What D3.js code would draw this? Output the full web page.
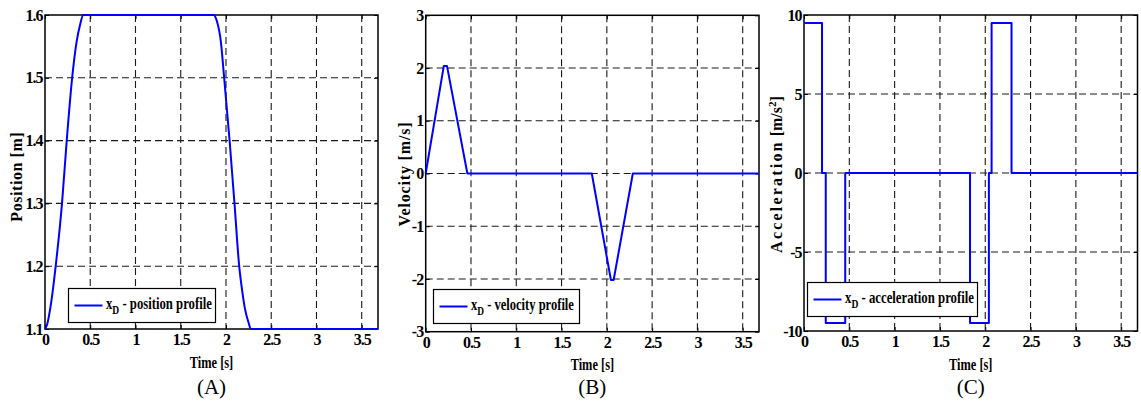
<!DOCTYPE html>
<html>
<head>
<meta charset="utf-8">
<script src="https://cdn.jsdelivr.net/npm/d3@7"></script>
<style>
  html, body { margin: 0; padding: 0; background: #fff; }
  svg { display: block; font-family: "Liberation Serif", "Times New Roman", serif; }
</style>
</head>
<body>
<svg id="chart" width="1141" height="403"></svg>
<script>
// ---- data ----
const xTicks = [0, 0.5, 1, 1.5, 2, 2.5, 3, 3.5];
const posTicks = [1.1, 1.2, 1.3, 1.4, 1.5, 1.6];
const velTicks = [-3, -2, -1, 0, 1, 2, 3];
const accTicks = [-10, -5, 0, 5, 10];

// desired position x_D(t) [m]
const posTime  = [0, 0.025, 0.055, 0.085, 0.118, 0.188, 0.24, 0.30, 0.35, 0.387, 0.424,
                  1.862, 1.90, 1.943, 1.98, 2.04, 2.094, 2.146, 2.18, 2.21, 2.25, 2.275, 3.68];
const posValue = [1.1, 1.108, 1.13, 1.16, 1.2, 1.3, 1.4, 1.5, 1.558, 1.584, 1.6,
                  1.6, 1.59, 1.558, 1.5, 1.4, 1.3, 1.2, 1.16, 1.132, 1.11, 1.1, 1.1];

// desired velocity [m/s]
const velTime  = [0, 0.2, 0.235, 0.46, 1.834, 2.045, 2.075, 2.287, 3.68];
const velValue = [0, 2.04, 2.04, 0, 0, -2.02, -2.02, 0, 0];

// desired acceleration [m/s^2], piecewise constant (value holds until next time)
const accTime  = [0, 0.199, 0.24, 0.455, 1.832, 2.04, 2.07, 2.29, 3.68];
const accValue = [9.5, 0, -9.5, 0, -9.5, 0, 9.5, 0, 0];

const xMax = 3.68;

// ---- layout of the three panels ----
const panels = [
  {
    tag: "(A)", left: 45, right: 378, top: 15, bottom: 329,
    yDomain: [1.1, 1.6], yTicks: posTicks,
    t: posTime, v: posValue, curve: d3.curveMonotoneX,
    yLabel: [{ text: "Position [m]" }], yLabelX: 17, yLabelY: 176.7, yLabelLen: 90,
    legendName: " - position profile",
    legend: { x: 68.5, y: 288.5, w: 147, h: 34, textW: 106 },
    xTitleY: 368
  },
  {
    tag: "(B)", left: 425.7, right: 759, top: 15.3, bottom: 331.7,
    yDomain: [-3, 3], yTicks: velTicks,
    t: velTime, v: velValue, curve: d3.curveLinear,
    yLabel: [{ text: "Velocity [m/s]" }], yLabelX: 405, yLabelY: 174, yLabelLen: 105,
    legendName: " - velocity profile",
    legend: { x: 433.5, y: 289.5, w: 146, h: 34, textW: 103 },
    xTitleY: 370
  },
  {
    tag: "(C)", left: 804, right: 1137.5, top: 15, bottom: 331,
    yDomain: [-10, 10], yTicks: accTicks,
    t: accTime, v: accValue, curve: d3.curveStepAfter,
    yLabel: [{ text: "Acceleration", spacing: 2.2 }, { text: " [m/s" }, { text: "2", sup: true }, { text: "]" }],
    yLabelX: 777, yLabelY: 174.5, yLabelLen: 145,
    legendName: " - acceleration profile",
    legend: { x: 807.5, y: 282.5, w: 170, h: 34, textW: 129 },
    xTitleY: 370
  }
];

const svg = d3.select("#chart");
const fmt = d => String(d);
const SERIF = "'Liberation Serif', 'Times New Roman', serif";

// horizontal scale factor that brings a group to a target width
function fitWidth(g, target) {
  const w = g.node().getBBox().width;
  return w > 0 ? target / w : 1;
}

panels.forEach(p => {
  const x = d3.scaleLinear().domain([0, xMax]).range([p.left, p.right]);
  const y = d3.scaleLinear().domain(p.yDomain).range([p.bottom, p.top]);
  const g = svg.append("g");

  // dashed grid
  const grid = g.append("g").attr("stroke", "#1a1a1a").attr("stroke-width", 1.1)
    .attr("stroke-dasharray", "7,4");
  grid.selectAll("line.v").data(xTicks.filter(t => t > 0)).join("line").attr("class", "v")
    .attr("x1", d => x(d)).attr("x2", d => x(d))
    .attr("y1", p.top).attr("y2", p.bottom);
  grid.selectAll("line.h").data(p.yTicks.filter(t => t > p.yDomain[0] && t < p.yDomain[1])).join("line").attr("class", "h")
    .attr("x1", p.left).attr("x2", p.right)
    .attr("y1", d => y(d)).attr("y2", d => y(d));

  // axes with inward ticks
  const styleAxis = sel => {
    sel.attr("font-family", SERIF);
    sel.select(".domain").remove();
    sel.selectAll(".tick line").attr("stroke", "#000");
    sel.selectAll(".tick text")
      .attr("fill", "#000")
      .style("font-family", SERIF)
      .style("font-weight", "700")
      .style("font-size", "16px")
      .style("letter-spacing", "-1px");
  };
  g.append("g").attr("transform", `translate(0,${p.bottom})`)
    .call(d3.axisBottom(x).tickValues(xTicks).tickSizeInner(-4).tickSizeOuter(0).tickPadding(5).tickFormat(fmt))
    .call(styleAxis);
  g.append("g").attr("transform", `translate(0,${p.top})`)
    .call(d3.axisTop(x).tickValues(xTicks).tickSizeInner(-4).tickSizeOuter(0).tickFormat(""))
    .call(styleAxis);
  g.append("g").attr("transform", `translate(${p.left},0)`)
    .call(d3.axisLeft(y).tickValues(p.yTicks).tickSizeInner(-4).tickSizeOuter(0).tickPadding(2.5).tickFormat(fmt))
    .call(styleAxis);
  g.append("g").attr("transform", `translate(${p.right},0)`)
    .call(d3.axisRight(y).tickValues(p.yTicks).tickSizeInner(-4).tickSizeOuter(0).tickFormat(""))
    .call(styleAxis);

  // frame
  g.append("rect")
    .attr("x", p.left).attr("y", p.top)
    .attr("width", p.right - p.left).attr("height", p.bottom - p.top)
    .attr("fill", "none").attr("stroke", "#000").attr("stroke-width", 1.5);

  // profile curve
  const pts = p.t.map((t, i) => [t, p.v[i]]);
  g.append("path")
    .datum(pts)
    .attr("fill", "none")
    .attr("stroke", "#0000ff")
    .attr("stroke-width", 2)
    .attr("stroke-linejoin", "round")
    .attr("d", d3.line().x(d => x(d[0])).y(d => y(d[1])).curve(p.curve));

  // legend
  const L = p.legend;
  const lg = g.append("g");
  lg.append("rect").attr("x", L.x).attr("y", L.y).attr("width", L.w).attr("height", L.h)
    .attr("fill", "#fff").attr("stroke", "#000").attr("stroke-width", 1.2);
  const cy = L.y + L.h / 2;
  lg.append("line").attr("x1", L.x + 6).attr("x2", L.x + 34).attr("y1", cy).attr("y2", cy)
    .attr("stroke", "#0000ff").attr("stroke-width", 2);
  const lt = lg.append("g");
  const ltext = lt.append("text").attr("x", 0).attr("y", 0)
    .attr("font-family", SERIF)
    .attr("font-weight", "700").attr("font-size", 16).attr("fill", "#000");
  ltext.append("tspan").text("x");
  ltext.append("tspan").attr("font-size", 12).attr("dy", 5).text("D");
  ltext.append("tspan").attr("dy", -5).text(p.legendName);
  const kL = fitWidth(lt, L.textW);
  lt.attr("transform", `translate(${L.x + 37.5},${cy + 3.5}) scale(${kL},1)`);

  // x-axis title
  const xt = g.append("g");
  xt.append("text").attr("text-anchor", "middle")
    .attr("font-family", SERIF)
    .attr("font-weight", "700").attr("font-size", 16).attr("fill", "#000")
    .text("Time [s]");
  const kX = fitWidth(xt, 43.5);
  xt.attr("transform", `translate(${(p.left + p.right) / 2},${p.xTitleY}) scale(${kX},1)`);

  // panel tag
  g.append("text")
    .attr("x", (p.left + p.right) / 2).attr("y", 394)
    .attr("text-anchor", "middle").attr("font-size", 21).attr("fill", "#000")
    .attr("font-family", SERIF)
    .text(p.tag);

  // y-axis title (rotated)
  const ytG = g.append("g");
  const yt = ytG.append("text").attr("text-anchor", "middle")
    .attr("font-family", SERIF)
    .attr("font-weight", "700").attr("font-size", 16).attr("fill", "#000");
  p.yLabel.forEach(part => {
    const ts = yt.append("tspan").text(part.text);
    if (part.spacing) ts.style("letter-spacing", part.spacing + "px");
    if (part.sup) ts.attr("font-size", 11).attr("dy", -6);
    else if (part.text === "]") ts.attr("dy", 6);
  });
  const natural = ytG.node().getBBox().width;
  const ls = (p.yLabelLen - natural) / Math.max(1, p.yLabel.map(d => d.text).join("").length);
  if (!p.yLabel.some(d => d.spacing)) yt.style("letter-spacing", ls.toFixed(2) + "px");
  ytG.attr("transform", `translate(${p.yLabelX + 5},${p.yLabelY}) rotate(-90)`);
});
</script>
</body>
</html>
